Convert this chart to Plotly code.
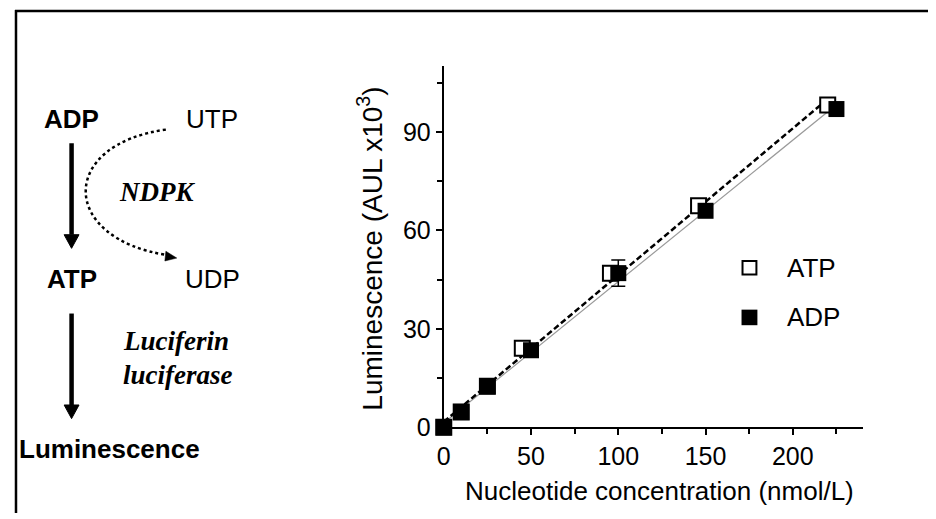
import numpy as np
import plotly.graph_objects as go

# ---- data ----
atp_x = [0, 10, 25, 45, 95.5, 146, 220]
atp_y = [0, 4.7, 12.5, 24.1, 47.0, 67.5, 98.2]
adp_x = [0, 10, 25, 50, 100, 150, 225]
adp_y = [0, 4.7, 12.5, 23.5, 47.0, 66.0, 97.0]
adp_err = [0, 0, 0, 0, 4.0, 0, 0]

x_ticks = [0, 50, 100, 150, 200]
y_ticks = [0, 30, 60, 90]

W, H = 936, 519
OFF = 8  # page body margin in the browser


def px(x):
    return (x - OFF) / W


def py(y):
    return 1 - (y - OFF) / H


FONT = "Liberation Sans, Arial, sans-serif"
SERIF = "Liberation Serif, Times New Roman, serif"

fig = go.Figure()

# fit lines
a_s, a_i = np.polyfit(atp_x, atp_y, 1)
d_s, d_i = np.polyfit(adp_x, adp_y, 1)
ax_line = np.array([0, max(atp_x)])
dx_line = np.array([0, max(adp_x)])
fig.add_trace(go.Scatter(x=dx_line, y=d_s * dx_line + d_i, mode="lines",
                         line=dict(color="#9a9a9a", width=1.2), showlegend=False,
                         cliponaxis=False, hoverinfo="skip"))
fig.add_trace(go.Scatter(x=ax_line, y=a_s * ax_line + a_i, mode="lines",
                         line=dict(color="black", width=2.5, dash="6px,3px"), showlegend=False,
                         cliponaxis=False, hoverinfo="skip"))

fig.add_trace(go.Scatter(x=atp_x, y=atp_y, mode="markers", name="ATP",
                         marker=dict(symbol="square", size=15, color="white",
                                     line=dict(color="black", width=2)),
                         showlegend=False, cliponaxis=False))
fig.add_trace(go.Scatter(x=adp_x, y=adp_y, mode="markers", name="ADP",
                         marker=dict(symbol="square", size=16, color="black",
                                     line=dict(color="black", width=0)),
                         error_y=dict(type="data", array=adp_err, color="black",
                                      thickness=1.5, width=7),
                         showlegend=False, cliponaxis=False))

shapes = []
# frame lines (top and left)
shapes.append(dict(type="line", xref="paper", yref="paper", x0=px(8), x1=px(944),
                   y0=py(11), y1=py(11), line=dict(color="black", width=2.5)))
shapes.append(dict(type="line", xref="paper", yref="paper", x0=px(9), x1=px(9),
                   y0=py(10), y1=py(527), line=dict(color="black", width=2.5)))

# solid arrows
for y0, y1 in [(147, 241), (322, 416)]:
    shapes.append(dict(type="line", xref="paper", yref="paper", x0=px(65), x1=px(65),
                       y0=py(y0), y1=py(y1), line=dict(color="black", width=4.5)))
    tip = y1 + 14
    shapes.append(dict(type="path", xref="paper", yref="paper",
                       path=f"M {px(57.5)},{py(y1)} L {px(72.5)},{py(y1)} L {px(65)},{py(tip)} Z",
                       fillcolor="black", line=dict(color="black", width=1)))

# dotted curve
p0 = (160, 133); c1 = (52, 148); c2 = (52, 245); p3 = (162, 262)
shapes.append(dict(type="path", xref="paper", yref="paper",
                   path=(f"M {px(p0[0])},{py(p0[1])} C {px(c1[0])},{py(c1[1])} "
                         f"{px(c2[0])},{py(c2[1])} {px(p3[0])},{py(p3[1])}"),
                   line=dict(color="black", width=2.5, dash="dot")))
shapes.append(dict(type="path", xref="paper", yref="paper",
                   path=f"M {px(160)},{py(258)} L {px(171)},{py(265)} L {px(159)},{py(268)} Z",
                   fillcolor="black", line=dict(color="black", width=0.5)))

# legend squares
shapes.append(dict(type="rect", xref="paper", yref="paper", x0=px(741), x1=px(755),
                   y0=py(268), y1=py(282), fillcolor="white", line=dict(color="black", width=2)))
shapes.append(dict(type="rect", xref="paper", yref="paper", x0=px(740), x1=px(756),
                   y0=py(318), y1=py(334), fillcolor="black", line=dict(color="black", width=0)))

annotations = []


def txt(s, x, y, size=26, family=FONT, xanchor="center", angle=0):
    annotations.append(dict(text=s, x=px(x), y=py(y), xref="paper", yref="paper",
                            showarrow=False, xanchor=xanchor, yanchor="middle",
                            textangle=angle, font=dict(size=size, family=family, color="black")))


txt("<b>ADP</b>", 65, 122)
txt("UTP", 206, 122)
txt("<b><i>NDPK</i></b>", 151, 197, size=27, family=SERIF)
txt("<b>ATP</b>", 65, 286)
txt("UDP", 207, 286)
txt("<b><i>Luciferin</i></b>", 115, 350, size=27, family=SERIF, xanchor="left")
txt("<b><i>luciferase</i></b>", 115, 385, size=27, family=SERIF, xanchor="left")
txt("<b>Luminescence</b>", 103, 461)
txt("ATP", 784, 275, xanchor="left")
txt("ADP", 784, 326, xanchor="left")
txt("Nucleotide concentration (nmol/L)", 657, 504)
txt("Luminescence (AUL x10<sup>3</sup>)", 366, 255, size=28, angle=-90)

fig.update_layout(
    width=W, height=H,
    margin=dict(l=0, r=0, t=0, b=0),
    paper_bgcolor="white", plot_bgcolor="white",
    showlegend=False,
    shapes=shapes, annotations=annotations,
    font=dict(family=FONT, color="black"),
    xaxis=dict(domain=[px(440), px(862)], range=[0, 240], tickvals=x_ticks,
               ticktext=[str(v) for v in x_ticks],
               showline=True, linecolor="black", linewidth=2, ticks="outside",
               ticklen=6, tickwidth=2, tickcolor="black", showgrid=False, zeroline=False,
               tickfont=dict(size=25, family=FONT),
               minor=dict(tickvals=[25, 75, 125, 175, 225], ticks="outside", ticklen=5,
                          tickwidth=2, tickcolor="black")),
    yaxis=dict(domain=[py(439), py(68)], range=[0, 110], tickvals=y_ticks,
               ticktext=[str(v) for v in y_ticks],
               showline=True, linecolor="black", linewidth=2, ticks="outside",
               ticklen=6, tickwidth=2, tickcolor="black", showgrid=False, zeroline=False,
               tickfont=dict(size=25, family=FONT),
               minor=dict(tickvals=[15, 45, 75, 105], ticks="outside", ticklen=5,
                          tickwidth=2, tickcolor="black")),
)

fig.write_html("out.html", config={"displayModeBar": False})
